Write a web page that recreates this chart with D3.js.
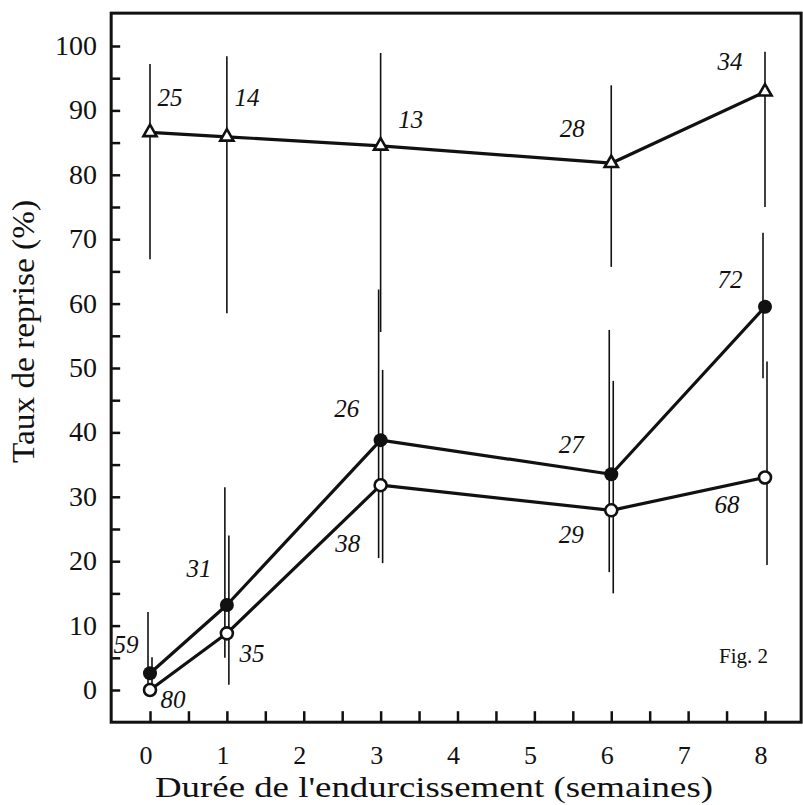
<!DOCTYPE html>
<html><head><meta charset="utf-8">
<script src="https://cdn.jsdelivr.net/npm/d3@7"></script>
<style>body{margin:0;background:#fff}svg{display:block}text{font-family:"Liberation Serif","Times New Roman",serif}</style>
</head><body>
<svg id="c" width="803" height="805"></svg>
<script>
// ---- data ----
const weeks = [0, 1, 3, 6, 8];
const xTickLabels = [0, 1, 2, 3, 4, 5, 6, 7, 8];
const yTickLabels = [0, 10, 20, 30, 40, 50, 60, 70, 80, 90, 100];

const triVals = [86.6, 85.9, 84.5, 81.8, 92.9];
const triLow  = [66.9, 58.5, 55.6, 65.7, 75.0];
const triHigh = [97.2, 98.4, 98.9, 93.9, 99.1];
const triN    = [25, 14, 13, 28, 34];

const filledVals = [2.6, 13.2, 38.8, 33.5, 59.5];
const filledLow  = [0, 5.0, 20.5, 18.3, 48.4];
const filledHigh = [12.1, 31.5, 62.2, 55.9, 71.0];
const filledN    = [59, 31, 26, 27, 72];

const openVals = [0, 8.8, 31.8, 27.9, 33.0];
const openLow  = [0, 0.8, 19.7, 15.0, 19.4];
const openHigh = [5.1, 24.0, 49.7, 48.0, 51.0];
const openN    = [80, 35, 38, 29, 68];

const xTitle = "Durée de l'endurcissement (semaines)";
const yTitle = "Taux de reprise (%)";
const figLabel = "Fig. 2";

// ---- layout (style) ----
const triLabelOff    = [[20,-26],[20,-31],[30,-18],[-39,-26],[-35,-22]];
const filledLabelOff = [[-24,-20],[-28,-28],[-34,-23],[-40,-21],[-35,-19]];
const openLabelOff   = [[23,18],[25,29],[-33,67],[-40,33],[-38,36]];

const svg = d3.select("#c");
const x = d3.scaleLinear().domain([0, 8]).range([150, 765]);
const y = d3.scaleLinear().domain([0, 100]).range([690, 46]);

// frame
const fx0 = x(-0.505), fx1 = x(8.47), fy0 = y(105.1), fy1 = y(-5);
svg.append("rect").attr("x", fx0).attr("y", fy0).attr("width", fx1 - fx0).attr("height", fy1 - fy0)
  .attr("fill", "none").attr("stroke", "#111").attr("stroke-width", 3);

// y axis ticks (inward)
const yAxis = d3.axisRight(y).tickValues(d3.range(0, 101, 5)).tickSize(9).tickFormat("");
svg.append("g").attr("transform", `translate(${fx0},0)`).call(yAxis)
  .call(g => g.select(".domain").remove())
  .call(g => g.selectAll("line").attr("stroke", "#111").attr("stroke-width", 2.5));
svg.append("g").selectAll("text").data(yTickLabels).join("text")
  .attr("x", 97).attr("y", d => y(d) + 9).attr("text-anchor", "end")
  .attr("font-size", 28).attr("fill", "#111").text(d => d);

// x axis ticks (inward)
const xAxis = d3.axisTop(x).tickValues(d3.range(0, 8.01, 0.5)).tickSize(11).tickFormat("");
svg.append("g").attr("transform", `translate(0,${fy1})`).call(xAxis)
  .call(g => g.select(".domain").remove())
  .call(g => g.selectAll("line").attr("stroke", "#111").attr("stroke-width", 2.5));
svg.append("g").selectAll("text").data(xTickLabels).join("text")
  .attr("x", d => x(d) - 4).attr("y", 764).attr("text-anchor", "middle")
  .attr("font-size", 26).attr("fill", "#111").text(d => d);

// titles
svg.append("text").attr("x", 155).attr("y", 797).attr("textLength", 558).attr("lengthAdjust", "spacingAndGlyphs")
  .attr("font-size", 30).attr("fill", "#111").text(xTitle);
svg.append("text").attr("transform", "translate(34,463) rotate(-90)").attr("textLength", 263)
  .attr("lengthAdjust", "spacingAndGlyphs")
  .attr("font-size", 31).attr("fill", "#111").text(yTitle);
svg.append("text").attr("x", 768).attr("y", 663).attr("text-anchor", "end")
  .attr("font-size", 21).attr("fill", "#111").text(figLabel);

function series(vals, low, high, n, offs, barDx) {
  const pts = weeks.map((w, i) => ({ w, v: vals[i], lo: low[i], hi: high[i], n: n[i], off: offs[i] }));
  const g = svg.append("g");
  g.selectAll("line.err").data(pts).join("line").attr("class", "err")
    .attr("x1", d => x(d.w) + barDx).attr("x2", d => x(d.w) + barDx)
    .attr("y1", d => y(d.lo)).attr("y2", d => y(d.hi))
    .attr("stroke", "#111").attr("stroke-width", 1.6);
  return { g, pts };
}
function drawLine(s) {
  s.g.append("path").datum(s.pts)
    .attr("d", d3.line().x(d => x(d.w)).y(d => y(d.v)))
    .attr("fill", "none").attr("stroke", "#111").attr("stroke-width", 3.2).attr("stroke-linejoin", "round");
}
function drawLabels(s) {
  s.g.selectAll("text.n").data(s.pts).join("text").attr("class", "n")
    .attr("x", d => x(d.w) + d.off[0]).attr("y", d => y(d.v) + d.off[1])
    .attr("text-anchor", "middle").attr("font-style", "italic")
    .attr("font-size", 25).attr("fill", "#111").text(d => d.n);
}

const sTri = series(triVals, triLow, triHigh, triN, triLabelOff, 0);
const sFill = series(filledVals, filledLow, filledHigh, filledN, filledLabelOff, -2);
const sOpen = series(openVals, openLow, openHigh, openN, openLabelOff, 2);

[sTri, sFill, sOpen].forEach(drawLine);

sTri.g.selectAll("path.m").data(sTri.pts).join("path").attr("class", "m")
  .attr("transform", d => `translate(${x(d.w)},${y(d.v)})`)
  .attr("d", d3.symbol(d3.symbolTriangle, 75))
  .attr("fill", "#fff").attr("stroke", "#111").attr("stroke-width", 2.6);
sOpen.g.selectAll("circle.m").data(sOpen.pts).join("circle").attr("class", "m")
  .attr("cx", d => x(d.w)).attr("cy", d => y(d.v)).attr("r", 6)
  .attr("fill", "#fff").attr("stroke", "#111").attr("stroke-width", 2.6);
sFill.g.selectAll("circle.m").data(sFill.pts).join("circle").attr("class", "m")
  .attr("cx", d => x(d.w)).attr("cy", d => y(d.v)).attr("r", 7)
  .attr("fill", "#111");

[sTri, sFill, sOpen].forEach(drawLabels);
</script>
</body></html>
